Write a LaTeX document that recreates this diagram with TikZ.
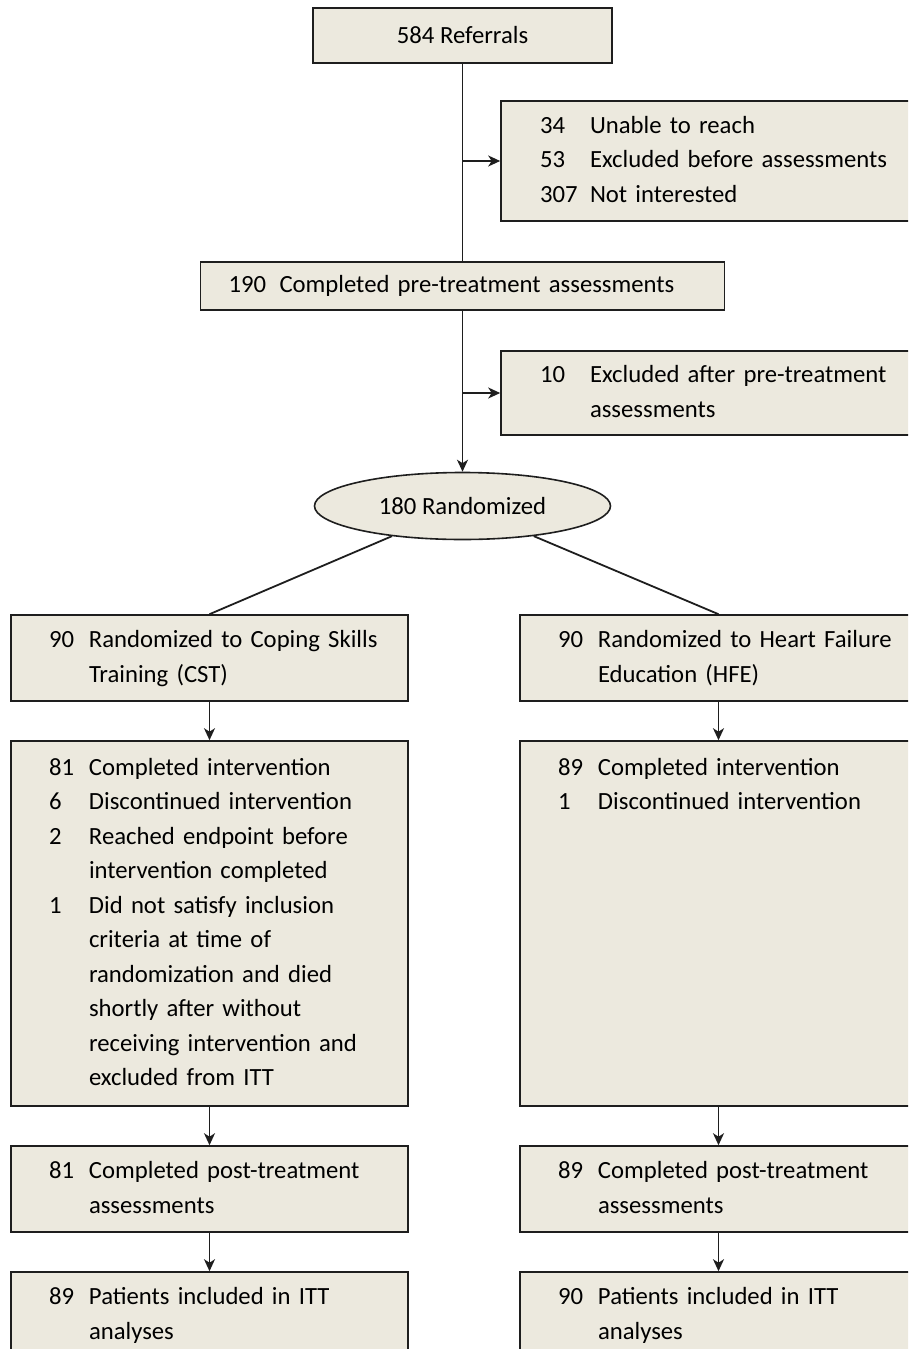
\documentclass[tikz,border=0pt]{standalone}
\usepackage{fontspec}
\setmainfont{Carlito}
\usetikzlibrary{arrows.meta,shapes.geometric}
\definecolor{boxfill}{RGB}{236,233,222}
\definecolor{linec}{RGB}{30,30,30}
\tikzset{
  flowbox/.style={draw=linec, line width=1.6pt, fill=boxfill, rectangle, inner ysep=0pt, align=left},
  conn/.style={draw=linec, line width=1.8pt},
  arr/.style={conn, -{Stealth[length=12pt, width=11pt, inset=3.5pt]}}
}
\begin{document}
\begin{tikzpicture}[x=1pt, y=-1pt, font={\fontsize{24.7}{34.5}\selectfont}]
  \clip (0,0) rectangle (908,1349);
  % enrolment
  \node[flowbox, align=center, minimum width=299pt, minimum height=55pt] (ref) at (462.5,35.5) {584 Referrals};
  \node[flowbox, inner xsep=39pt, text width=360pt, minimum height=120pt] (exa) at (720,161)
    {\begin{tabular}{@{}p{50pt}@{}l@{}}
      34 & Unable to reach\\
      53 & Excluded before assessments\\
      307 & Not interested
    \end{tabular}};
  \node[flowbox, inner xsep=28pt, text width=468pt, minimum height=48pt] (pre) at (462.5,286)
    {\begin{tabular}{@{}p{51pt}@{}l@{}}
      190 & Completed pre-treatment assessments
    \end{tabular}};
  \node[flowbox, inner xsep=39pt, text width=360pt, minimum height=84pt] (exb) at (720,393)
    {\begin{tabular}{@{}p{50pt}@{}l@{}}
      10 & Excluded after pre-treatment\\
         & assessments
    \end{tabular}};
  \node[flowbox, ellipse, align=center, inner sep=0pt, minimum width=296pt, minimum height=67pt] (rand) at (462.5,506) {180 Randomized};
  % CST arm
  \node[flowbox, inner xsep=38pt, text width=321pt, minimum height=86pt] (cst) at (209.5,658)
    {\begin{tabular}{@{}p{40pt}@{}l@{}}
      90 & Randomized to Coping Skills\\
         & Training (CST)
    \end{tabular}};
  \node[flowbox, inner xsep=38pt, text width=321pt, minimum height=365pt] (cstint) at (209.5,923.5)
    {\begin{tabular}{@{}p{40pt}@{}l@{}}
      81 & Completed intervention\\
      6  & Discontinued intervention\\
      2  & Reached endpoint before\\
         & intervention completed\\
      1  & Did not satisfy inclusion\\
         & criteria at time of\\
         & randomization and died\\
         & shortly after without\\
         & receiving intervention and\\
         & excluded from ITT
    \end{tabular}};
  \node[flowbox, inner xsep=38pt, text width=321pt, minimum height=86pt] (cstpost) at (209.5,1189)
    {\begin{tabular}{@{}p{40pt}@{}l@{}}
      81 & Completed post-treatment\\
         & assessments
    \end{tabular}};
  \node[flowbox, inner xsep=38pt, text width=321pt, minimum height=86pt] (cstitt) at (209.5,1315)
    {\begin{tabular}{@{}p{40pt}@{}l@{}}
      89 & Patients included in ITT\\
         & analyses
    \end{tabular}};
  % HFE arm
  \node[flowbox, inner xsep=38pt, text width=321pt, minimum height=86pt] (hfe) at (718.5,658)
    {\begin{tabular}{@{}p{40pt}@{}l@{}}
      90 & Randomized to Heart Failure\\
         & Education (HFE)
    \end{tabular}};
  \node[flowbox, inner xsep=38pt, text width=321pt, minimum height=365pt] (hfeint) at (718.5,923.5)
    {\begin{tabular}{@{}p{40pt}@{}l@{}}
      89 & Completed intervention\\
      1  & Discontinued intervention\\[276pt]
    \end{tabular}};
  \node[flowbox, inner xsep=38pt, text width=321pt, minimum height=86pt] (hfepost) at (718.5,1189)
    {\begin{tabular}{@{}p{40pt}@{}l@{}}
      89 & Completed post-treatment\\
         & assessments
    \end{tabular}};
  \node[flowbox, inner xsep=38pt, text width=321pt, minimum height=86pt] (hfeitt) at (718.5,1315)
    {\begin{tabular}{@{}p{40pt}@{}l@{}}
      90 & Patients included in ITT\\
         & analyses
    \end{tabular}};
  % connectors
  \draw[conn] (ref) -- (pre);
  \draw[arr] (ref.south |- exa.west) -- (exa.west);
  \draw[arr] (pre) -- (rand);
  \draw[arr] (pre.south |- exb.west) -- (exb.west);
  \draw[conn] (rand) -- (cst.north);
  \draw[conn] (rand) -- (hfe.north);
  \draw[arr] (cst) -- (cstint);
  \draw[arr] (cstint) -- (cstpost);
  \draw[arr] (cstpost) -- (cstitt);
  \draw[arr] (hfe) -- (hfeint);
  \draw[arr] (hfeint) -- (hfepost);
  \draw[arr] (hfepost) -- (hfeitt);
\end{tikzpicture}
\end{document}
